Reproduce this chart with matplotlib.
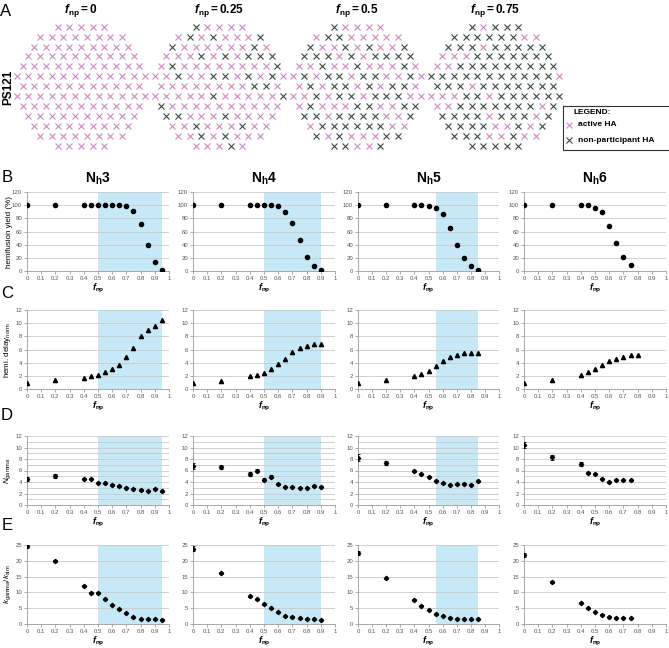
import numpy as np
import matplotlib
matplotlib.use('Agg')
import matplotlib.pyplot as plt
from matplotlib.patches import Rectangle
from matplotlib.ticker import MultipleLocator, FuncFormatter

plt.rcParams['font.family'] = ['Liberation Sans', 'DejaVu Sans']
plt.rcParams['mathtext.fontset'] = 'custom'
plt.rcParams['mathtext.rm'] = 'Liberation Sans'
plt.rcParams['mathtext.it'] = 'Liberation Sans:italic'
plt.rcParams['mathtext.bf'] = 'Liberation Sans:bold'
plt.rcParams['mathtext.bfit'] = 'Liberation Sans:bold:italic'

# ---------------- data ----------------
# Panel A: HA lattice states per row (p = active HA, n = non-participant HA)
patch_labels = ['0', '0.25', '0.5', '0.75']
patch_f0 = ["ppppp", "pppppppp", "ppppppppp", "pppppppppp", "ppppppppppp",
            "pppppppppppp", "ppppppppppp", "pppppppppppp", "ppppppppppp",
            "pppppppppp", "ppppppppp", "pppppppp", "ppppp"]
patch_f025 = ["npppp", "pnpnpppn", "nppppppnp", "pppnpnpnnn", "pnppppppppn",
              "ppnppnnpnpnp", "ppppppppnnp", "pppppnpppppn", "npppppppppp",
              "nnpppnpppp", "ppnpppnpp", "ppnpnppp", "pppnp"]
patch_f05 = ["npppp", "pnnppppp", "nppnpnppn", "nnnpnpnnnn", "ppnppnpppnp",
             "pnpnnpnnppnp", "pnpnnpnpnnp", "ppnpnnpnnnpp", "pnpppnnppnn",
             "nnpnnnnppn", "pnnnnnnpp", "npnpppnn", "nnppn"]
patch_f075 = ["npnnn", "nnnnnnpp", "nnnpnnnnn", "pppnnnnnnn", "ppnnnnnnnnn",
              "nnnnnnnnnnnp", "nnnpnnnnnnn", "pppnnpnnnnnn", "ppnnnnnnnpn",
              "nnnnpnnnpn", "nnnnppnpn", "nnnppnpp", "nnnnn"]
patches = [patch_f0, patch_f025, patch_f05, patch_f075]

titles = ['3', '4', '5', '6']
shade = [(0.5, 0.95), (0.5, 0.9), (0.55, 0.85), None]

f_nh3 = [0, 0.2, 0.4, 0.45, 0.5, 0.55, 0.6, 0.65, 0.7, 0.75, 0.8, 0.85, 0.9, 0.95]
f_nh4 = [0, 0.2, 0.4, 0.45, 0.5, 0.55, 0.6, 0.65, 0.7, 0.75, 0.8, 0.85, 0.9]
f_nh5 = [0, 0.2, 0.4, 0.45, 0.5, 0.55, 0.6, 0.65, 0.7, 0.75, 0.8, 0.85]
f_nh6 = [0, 0.2, 0.4, 0.45, 0.5, 0.55, 0.6, 0.65, 0.7, 0.75]
f_nh6_c = [0, 0.2, 0.4, 0.45, 0.5, 0.55, 0.6, 0.65, 0.7, 0.75, 0.8]

yield_nh3 = [100, 100, 100, 100, 100, 100, 100, 100, 98, 91, 71, 40, 13, 1]
yield_nh4 = [100, 100, 100, 100, 100, 100, 98, 90, 73, 47, 22, 8, 1]
yield_nh5 = [100, 100, 100, 100, 99, 96, 86, 65, 40, 20, 8, 2]
yield_nh6 = [100, 100, 100, 100, 96, 89, 68, 43, 22, 9]

delay_nh3 = [0.9, 1.3, 1.7, 2.0, 2.2, 2.6, 3.1, 3.7, 4.9, 6.3, 8.0, 8.9, 9.6, 10.5]
delay_nh4 = [0.9, 1.2, 1.9, 2.1, 2.5, 3.0, 3.8, 4.6, 5.6, 6.3, 6.6, 6.8, 6.9]
delay_nh5 = [0.9, 1.3, 2.0, 2.3, 2.8, 3.5, 4.3, 4.9, 5.2, 5.4, 5.5, 5.5]
delay_nh6 = [0.9, 1.3, 2.1, 2.6, 3.1, 3.7, 4.3, 4.6, 4.9, 5.1, 5.2]

ngamma_nh3 = [4.6, 5.0, 4.6, 4.6, 3.9, 3.8, 3.5, 3.3, 3.0, 2.8, 2.6, 2.5, 2.8, 2.4]
ngamma_nh4 = [6.8, 6.6, 5.4, 6.0, 4.4, 4.9, 3.6, 3.2, 3.2, 3.0, 3.0, 3.3, 3.2]
ngamma_nh5 = [8.2, 7.3, 5.9, 5.4, 4.9, 4.2, 3.8, 3.5, 3.6, 3.7, 3.5, 4.1]
ngamma_nh6 = [10.5, 8.3, 7.1, 5.6, 5.4, 4.6, 4.0, 4.4, 4.3, 4.3]
ngamma_err_nh3 = [0.35, 0.35, 0.15, 0.15, 0.1, 0.1, 0.1, 0.1, 0.1, 0.1, 0.1, 0.1, 0.1, 0.1]
ngamma_err_nh4 = [0.5, 0.3, 0.3, 0.3, 0.25, 0.25, 0.1, 0.1, 0.1, 0.1, 0.1, 0.1, 0.1]
ngamma_err_nh5 = [0.6, 0.4, 0.15, 0.1, 0.1, 0.1, 0.1, 0.1, 0.1, 0.1, 0.1, 0.1]
ngamma_err_nh6 = [0.5, 0.4, 0.3, 0.15, 0.1, 0.1, 0.1, 0.1, 0.1, 0.1]

kratio_nh3 = [24.8, 20.0, 12.0, 9.8, 9.8, 7.8, 6.0, 4.6, 3.5, 2.1, 1.6, 1.5, 1.5, 1.4]
kratio_nh4 = [23.8, 16.1, 8.8, 7.8, 6.2, 5.0, 3.7, 2.4, 2.3, 1.8, 1.7, 1.5, 1.3]
kratio_nh5 = [22.5, 14.4, 7.6, 5.8, 4.4, 3.1, 2.5, 2.0, 1.7, 1.6, 1.5, 1.6]
kratio_nh6 = [21.9, 13.3, 6.8, 5.0, 3.8, 3.0, 2.3, 2.0, 2.0, 1.8]
kratio_err_nh3 = [0.8, 0.3, 0.2, 0.2, 0.2, 0.2, 0.1, 0.1, 0.1, 0.1, 0.1, 0.1, 0.1, 0.1]
kratio_err_nh4 = [0.8, 0.3, 0.2, 0.2, 0.2, 0.1, 0.1, 0.1, 0.1, 0.1, 0.1, 0.1, 0.1]
kratio_err_nh5 = [0.6, 0.3, 0.2, 0.2, 0.1, 0.1, 0.1, 0.1, 0.1, 0.1, 0.1, 0.1]
kratio_err_nh6 = [0.6, 0.3, 0.2, 0.1, 0.1, 0.1, 0.1, 0.1, 0.1, 0.1]

# ---------------- figure ----------------
W, H = 669, 648
fig = plt.figure(figsize=(W / 100, H / 100), dpi=100)

def px_axes(x0, y0, x1, y1):
    return fig.add_axes([x0 / W, 1 - y1 / H, (x1 - x0) / W, (y1 - y0) / H])

PINK = '#cc88c2'
DARK = '#3e4849'
BLUE = '#c6e8f7'

# ----- Panel A -----
axA = px_axes(0, 0, W, 160)
axA.set_xlim(0, W)
axA.set_ylim(160, 0)
axA.axis('off')
centers_x = [81, 219, 357, 495]
cy, dy, dx = 86.3, 9.94, 11.67
for cx, lab, rows in zip(centers_x, patch_labels, patches):
    for r, s in enumerate(rows):
        y = cy + (r - 6) * dy
        for i, c in enumerate(s):
            x = cx + (i - (len(s) - 1) / 2) * dx
            axA.plot(x, y, marker='x', ms=4.3, mew=0.8,
                     color=PINK if c == 'p' else DARK, ls='none')
    axA.text(cx, 11, r'$\mathbfit{f}_{\mathbf{np}}\mathbf{=' + lab + '}$',
             ha='center', va='center', fontsize=8.5)
axA.text(8, 87, 'PS121', rotation=90, ha='center', va='center',
         fontsize=8.5, fontweight='bold')
fig.text(6 / W, 1 - 11 / H, 'A', fontsize=12, ha='center', va='center')
axA.add_patch(Rectangle((563, 106), 110, 44, fill=False, ec='#333333', lw=0.8))
axA.text(574, 113, 'LEGEND:', fontsize=6, fontweight='bold', va='center')
axA.plot(569, 125, marker='x', ms=4.3, mew=0.8, color=PINK)
axA.text(578, 125, 'active HA', fontsize=6, fontweight='bold', va='center')
axA.plot(569, 140, marker='x', ms=4.3, mew=0.8, color=DARK)
axA.text(578, 140, 'non-participant HA', fontsize=6, fontweight='bold', va='center')

# ----- Panels B-E -----
cols_px = [(27, 169), (193, 335), (358, 499), (524, 666)]
rows_px = [(192, 271), (310, 389), (436, 505), (545, 624)]

f_lists = [f_nh3, f_nh4, f_nh5, f_nh6]
B_data = [yield_nh3, yield_nh4, yield_nh5, yield_nh6]
C_f = [f_nh3, f_nh4, f_nh5, f_nh6_c]
C_data = [delay_nh3, delay_nh4, delay_nh5, delay_nh6]
D_data = [ngamma_nh3, ngamma_nh4, ngamma_nh5, ngamma_nh6]
D_err = [ngamma_err_nh3, ngamma_err_nh4, ngamma_err_nh5, ngamma_err_nh6]
E_data = [kratio_nh3, kratio_nh4, kratio_nh5, kratio_nh6]
E_err = [kratio_err_nh3, kratio_err_nh4, kratio_err_nh5, kratio_err_nh6]

ylabels = ['hemifusion yield (%)', r'hemi. delay$_{\mathrm{norm.}}$',
           r'$N_{\mathrm{gamma}}$', r'$k_{\mathrm{gamma}}/k_{\mathrm{sim}}$']
ylims = [(0, 120), (0, 12), (0, 12), (0, 25)]
ymaj = [20, 2, 2, 5]
ymin = [20, 2, 1, 5]
letters = ['B', 'C', 'D', 'E']
letter_y = [178, 293, 415, 526]

xfmt = FuncFormatter(lambda v, p: '0' if abs(v) < 1e-9 else ('1' if abs(v - 1) < 1e-9 else f'{v:.1f}'))

def style(ax, ri):
    ax.set_xlim(0, 1)
    ax.set_ylim(*ylims[ri])
    ax.xaxis.set_major_locator(MultipleLocator(0.1))
    ax.xaxis.set_major_formatter(xfmt)
    ax.yaxis.set_major_locator(MultipleLocator(ymaj[ri]))
    ax.yaxis.set_minor_locator(MultipleLocator(ymin[ri]))
    ax.grid(True, axis='y', which='both', color='#c9c9c9', lw=0.6, zorder=1)
    ax.set_axisbelow(True)
    for sp in ['top', 'right']:
        ax.spines[sp].set_visible(False)
    for sp in ['left', 'bottom']:
        ax.spines[sp].set_color('#9a9a9a')
        ax.spines[sp].set_linewidth(0.6)
    ax.tick_params(axis='both', which='major', labelsize=4.3, labelcolor='#555555',
                   length=2, width=0.5, color='#888888', pad=1.5)
    ax.tick_params(axis='y', which='minor', length=0)
    ax.set_xlabel(r'$\mathbfit{f}_{\mathbf{np}}$', fontsize=6.5, labelpad=1)

for ri, (y0, y1) in enumerate(rows_px):
    for ci, (x0, x1) in enumerate(cols_px):
        ax = px_axes(x0, y0, x1, y1)
        style(ax, ri)
        if shade[ci] is not None:
            ax.axvspan(shade[ci][0], shade[ci][1], color=BLUE, lw=0, zorder=0)
        if ri == 0:
            ax.plot(f_lists[ci], B_data[ci], 'o', color='black', ms=3, zorder=3)
            ax.set_title(r'$\mathbf{N}_{\mathbf{h}}\mathbf{' + titles[ci] + '}$',
                         fontsize=10, pad=7)
        elif ri == 1:
            ax.plot(C_f[ci], C_data[ci], '^', color='black', ms=3, zorder=3)
        elif ri == 2:
            ax.errorbar(f_lists[ci], D_data[ci], yerr=D_err[ci], fmt='D', color='black',
                        ms=2.2, elinewidth=0.6, capsize=1.5, capthick=0.6, zorder=3)
        else:
            ax.errorbar(f_lists[ci], E_data[ci], yerr=E_err[ci], fmt='D', color='black',
                        ms=2.2, elinewidth=0.6, capsize=1.5, capthick=0.6, zorder=3)
        if ci == 0:
            ax.set_ylabel(ylabels[ri], fontsize=5.8)
            ax.yaxis.set_label_coords(-14 / 142, 0.5)
    fig.text(7 / W, 1 - letter_y[ri] / H, letters[ri], fontsize=12,
             ha='center', va='center')

fig.savefig('out.png', dpi=100)
